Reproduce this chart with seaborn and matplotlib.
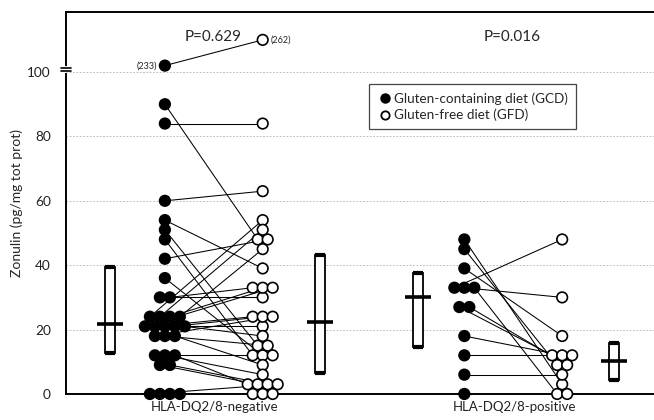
import numpy as np
import pandas as pd
import matplotlib
matplotlib.use("Agg")
import matplotlib.pyplot as plt
from matplotlib.lines import Line2D
import seaborn as sns

# --- data ---
groups = ["HLA-DQ2/8-negative", "HLA-DQ2/8-positive"]
p_labels = ["P=0.629", "P=0.016"]

# paired patients: value on gluten-containing diet -> value on gluten-free diet
neg_gcd = [233, 90, 84, 60, 54, 51, 48, 42, 36, 30, 30, 24, 24, 24, 24,
           21, 21, 21, 21, 21, 18, 18, 18, 12, 12, 12, 9, 9, 0, 0, 0, 0]
neg_gfd = [262, 48, 84, 63, 39, 15, 12, 48, 12, 30, 33, 54, 51, 33, 45,
           33, 24, 21, 24, 18, 24, 15, 9, 12, 6, 3, 3, 3, 3, 0, 0, 0]
pos_gcd = [48, 45, 39, 33, 33, 33, 27, 27, 18, 12, 6, 0]
pos_gfd = [3, 9, 18, 48, 30, 0, 12, 9, 12, 12, 6, 0]

# off-scale values shown above the axis break
broken = {233: 102, 262: 110}

# median and range bars (GCD neg, GFD neg, GCD pos, GFD pos)
box_low = [12.6, 6.4, 14.6, 4.3]
box_med = [21.7, 22.3, 30.2, 10.3]
box_high = [39.3, 43.3, 37.7, 15.7]

# --- layout ---
group_x = [0, 3]
diet_dx = {"GCD": 0.0, "GFD": 0.98}
box_x = [-0.55, 1.55, 2.54, 4.5]


def spread(vals, step=0.1):
    vals = np.asarray(vals, float)
    off = np.zeros(len(vals))
    for v in np.unique(vals):
        idx = np.where(vals == v)[0]
        off[idx] = (np.arange(len(idx)) - (len(idx) - 1) / 2) * step
    return off


rows = []
for g, gx, (gcd, gfd) in zip(groups, group_x, [(neg_gcd, neg_gfd), (pos_gcd, pos_gfd)]):
    for diet, vals in (("GCD", gcd), ("GFD", gfd)):
        shown = [broken.get(v, v) for v in vals]
        offs = spread(shown)
        for i, (v, s, o) in enumerate(zip(vals, shown, offs)):
            rows.append(dict(group=g, diet=diet, pid=i, value=v, y=s,
                             x=gx + diet_dx[diet] + o))
df = pd.DataFrame(rows)

sns.set_theme(style="white")
plt.rcParams["font.family"] = ["Lato", "DejaVu Sans"]

fig = plt.figure(figsize=(6.54, 4.2), dpi=100)
ax = fig.add_axes([0.101, 0.062, 0.899, 0.909])

# grid
for v in [20, 40, 60, 80, 100]:
    ax.axhline(v, color="#b0b0b0", lw=0.6, ls=(0, (2, 2)), zorder=0)

# paired lines
for g in groups:
    sub = df[df.group == g]
    a = sub[sub.diet == "GCD"].set_index("pid")
    b = sub[sub.diet == "GFD"].set_index("pid")
    for pid in a.index:
        ax.plot([a.loc[pid, "x"], b.loc[pid, "x"]], [a.loc[pid, "y"], b.loc[pid, "y"]],
                color="black", lw=0.75, zorder=2)

sns.scatterplot(data=df, x="x", y="y", hue="diet",
                palette={"GCD": "black", "GFD": "white"},
                edgecolor="black", linewidth=1.2, s=58, legend=False, zorder=3, ax=ax)
for c in ax.collections:
    c.set_clip_on(False)

# median / range bars
ax.bar(box_x, np.array(box_high) - np.array(box_low), bottom=box_low, width=0.1,
       color="white", edgecolor="black", linewidth=1.3, zorder=2)
ax.hlines(box_high, np.array(box_x) - 0.05, np.array(box_x) + 0.05, color="black", lw=3, zorder=3)
ax.hlines(box_low, np.array(box_x) - 0.05, np.array(box_x) + 0.05, color="black", lw=3, zorder=3)
ax.hlines(box_med, np.array(box_x) - 0.13, np.array(box_x) + 0.13, color="black", lw=2.6, zorder=4)

# off-scale labels
for diet, val, side in (("GCD", 233, -1), ("GFD", 262, 1)):
    r = df[(df.group == groups[0]) & (df.value == val)].iloc[0]
    ax.text(r.x + side * 0.08, r.y, f"({val})", fontsize=6.5,
            ha="right" if side < 0 else "left", va="center")

# p-values
for gx, p in zip(group_x, p_labels):
    ax.text(gx + 0.48, 110.8, p, fontsize=11, ha="center", va="center")

ax.set_xlim(-0.99, 4.9)
ax.set_ylim(0, 118.6)
ax.set_yticks([0, 20, 40, 60, 80, 100])
ax.set_xticks([0.5, 3.5])
ax.set_xticklabels(groups)
ax.tick_params(axis="both", length=0, colors="#222222")
ax.tick_params(axis="y", pad=11, labelsize=9.8)
ax.tick_params(axis="x", pad=5, labelsize=9.5)
ax.set_xlabel("")
ax.set_ylabel("Zonulin (pg/mg tot prot)", fontsize=10, labelpad=3)

for s in ["left", "top", "bottom"]:
    ax.spines[s].set_color("black")
    ax.spines[s].set_linewidth(1.4)
ax.spines["right"].set_visible(False)

# axis break on the left spine
tr = ax.get_yaxis_transform()
ax.plot([0, 0], [100.3, 101.2], color="white", lw=3, transform=tr, clip_on=False, zorder=5)
for yb in (100.2, 101.3):
    ax.plot([-0.008, 0.008], [yb, yb], color="black", lw=1.2, transform=tr,
            clip_on=False, zorder=6)

handles = [
    Line2D([], [], marker="o", ls="", markerfacecolor="black", markeredgecolor="black",
           markersize=6.5, label="Gluten-containing diet (GCD)"),
    Line2D([], [], marker="o", ls="", markerfacecolor="white", markeredgecolor="black",
           markeredgewidth=1.3, markersize=6, label="Gluten-free diet (GFD)"),
]
leg = ax.legend(handles=handles, loc="upper left", bbox_to_anchor=(0.515, 0.8115),
                borderaxespad=0, fontsize=9.7, frameon=True, fancybox=False,
                handletextpad=0.1, handlelength=1.2, borderpad=0.6, labelspacing=0.3,
                edgecolor="#444444", framealpha=1)
leg.get_frame().set_linewidth(0.9)

fig.savefig("out.png", dpi=100)
